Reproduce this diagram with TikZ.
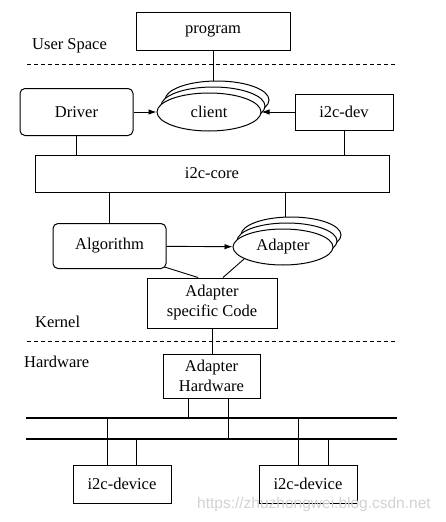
\documentclass[tikz,border=0pt]{standalone}
\usepackage{fontspec}
\setmainfont{Liberation Serif}
\newfontfamily\marksans{Liberation Sans}
\usetikzlibrary{shapes.geometric,arrows.meta}

\tikzstyle{block} = [rectangle, draw, line width=1pt, text centered, inner sep=0pt, font=\fontsize{16.5}{20}\selectfont]
\tikzstyle{soft} = [block, rounded corners=5pt]
\tikzstyle{disc} = [ellipse, draw, line width=1pt, fill=white, inner sep=0pt, font=\fontsize{16.5}{20}\selectfont]
\tikzstyle{zone} = [anchor=west, inner sep=0pt, font=\fontsize{16.5}{20}\selectfont]
\tikzstyle{border} = [dash pattern=on 4pt off 3pt, line width=0.9pt]
\tikzstyle{wire} = [line width=0.9pt]
\tikzstyle{bus} = [line width=1.7pt]
\tikzstyle{arr} = [wire, -{Latex[length=8pt,width=5.5pt]}]

\begin{document}
\begin{tikzpicture}[x=1pt, y=-1pt]
        \useasboundingbox (0,0) rectangle (445,522);
        % user space
        \node[block, minimum width=154pt, minimum height=38pt] (program) at (213,31) {program};
        \node[zone] (userlbl) at (32,46) {User Space};
        \coordinate (sep1w) at (27,64);
        \coordinate (sep1e) at (395,64);
        \draw[border] (sep1w) -- (sep1e);
        % clients
        \node[soft, minimum width=113pt, minimum height=47pt] (driver) at (76.5,112) {Driver};
        \node[block, minimum width=98pt, minimum height=36pt] (i2cdev) at (344,112) {i2c-dev};
        \node[disc, minimum width=104pt, minimum height=38pt] (client2) at (217,100) {};
        \draw[wire] (program.south) -- (program.south |- client2.north);
        \node[disc, minimum width=104pt, minimum height=38pt] (client1) at (213,106) {};
        \node[disc, minimum width=104pt, minimum height=38pt] (client) at (209,112) {client};
        \draw[arr] (driver) -- (client);
        \draw[arr] (i2cdev) -- (client);
        % core
        \node[block, minimum width=354pt, minimum height=37pt] (core) at (212,173.5) {i2c-core};
        \draw[wire] (driver) -- (driver |- core.north);
        \draw[wire] (i2cdev) -- (i2cdev |- core.north);
        % adapters
        \node[soft, minimum width=113pt, minimum height=45pt] (algo) at (109.5,246) {Algorithm};
        \draw[wire] (algo) -- (algo |- core.south);
        \node[disc, minimum width=100pt, minimum height=36pt] (adapter2) at (291,235) {};
        \draw[wire] ([xshift=-6pt]adapter2.north) -- ([xshift=-6pt]adapter2.north |- core.south);
        \node[disc, minimum width=100pt, minimum height=36pt] (adapter1) at (287,241) {};
        \node[disc, minimum width=100pt, minimum height=36pt] (adapter) at (283,247) {Adapter};
        \draw[arr] (algo) -- (adapter);
        \node[block, minimum width=130pt, minimum height=50pt, align=center] (asc) at (212,303) {Adapter\\specific Code};
        \draw[wire] ([xshift=-2pt,yshift=2pt]algo.south east) -- ([xshift=-14pt]asc.north);
        \draw[wire] (adapter.197) -- ([xshift=11pt]asc.north);
        \node[zone] (kernlbl) at (35,322) {Kernel};
        \coordinate (sep2w) at (27,341);
        \coordinate (sep2e) at (395,341);
        \draw[border] (sep2w) -- (sep2e);
        % hardware
        \node[zone] (hwlbl) at (24,362) {Hardware};
        \node[block, minimum width=97pt, minimum height=44pt, align=center] (ahw) at (211.5,376) {Adapter\\Hardware};
        \draw[wire] (asc) -- (asc |- ahw.north);
        \coordinate (sclw) at (26,418);
        \coordinate (scle) at (397,418);
        \coordinate (sdaw) at (26,439);
        \coordinate (sdae) at (397,439);
        \draw[bus] (sclw) -- (scle);
        \draw[wire, line width=1.2pt] (sdaw) -- (sdae);
        \draw[wire] ([xshift=-23.5pt]ahw.south) -- ([xshift=-23.5pt]ahw.south |- sclw);
        \draw[wire] ([xshift=16.5pt]ahw.south) -- ([xshift=16.5pt]ahw.south |- sdaw);
        % devices
        \node[block, minimum width=98pt, minimum height=38pt] (dev1) at (122,484) {i2c-device};
        \node[block, minimum width=98pt, minimum height=38pt] (dev2) at (308,484) {i2c-device};
        \draw[wire] ([xshift=-15pt]dev1.north) -- ([xshift=-15pt]dev1.north |- sclw);
        \draw[wire] ([xshift=14pt]dev1.north) -- ([xshift=14pt]dev1.north |- sdaw);
        \draw[wire] ([xshift=-10pt]dev2.north) -- ([xshift=-10pt]dev2.north |- sclw);
        \draw[wire] ([xshift=20pt]dev2.north) -- ([xshift=20pt]dev2.north |- sdaw);
        \node[anchor=west, inner sep=0pt, text=gray!35, font=\marksans\fontsize{15.5}{16}\selectfont] (mark) at (197,504) {https://zhuzhongwei.blog.csdn.net};
    \end{tikzpicture}
\end{document}
